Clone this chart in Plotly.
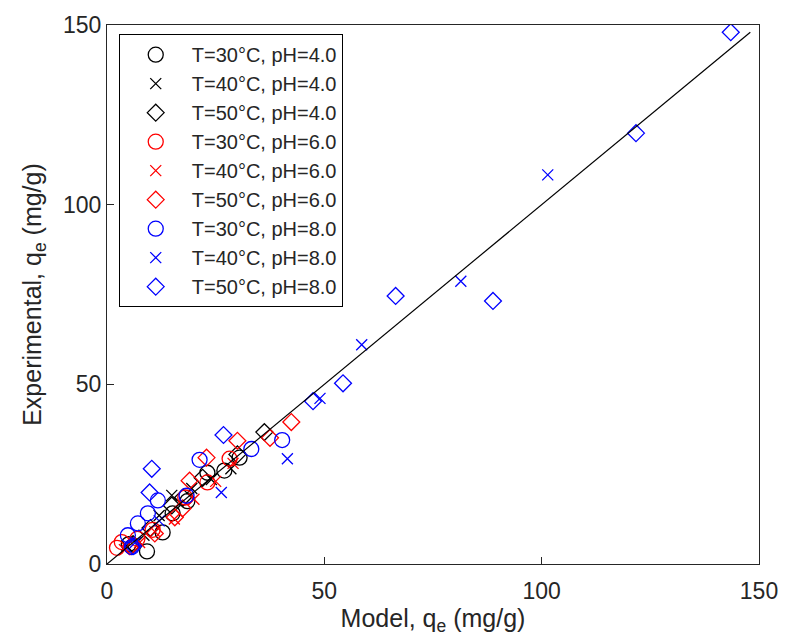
import plotly.graph_objects as go

# Data: (model qe, experimental qe) per series
labels = ["T=30°C, pH=4.0", "T=40°C, pH=4.0", "T=50°C, pH=4.0",
          "T=30°C, pH=6.0", "T=40°C, pH=6.0", "T=50°C, pH=6.0",
          "T=30°C, pH=8.0", "T=40°C, pH=8.0", "T=50°C, pH=8.0"]

x_30_4 = [5.0, 9.2, 12.8, 15.1, 18.5, 23.1, 27.0, 30.5]
y_30_4 = [5.5, 3.5, 8.8, 14.1, 17.5, 25.4, 26.0, 29.6]
x_40_4 = [4.5, 8.5, 12.0, 14.9, 19.5, 24.0, 28.5]
y_40_4 = [5.0, 8.0, 13.5, 19.1, 21.0, 23.5, 26.5]
x_50_4 = [6.0, 10.0, 14.9, 17.5, 22.0, 30.0, 36.2]
y_50_4 = [5.5, 10.0, 16.3, 18.5, 24.0, 30.5, 36.7]

x_30_6 = [2.3, 3.4, 7.0, 10.5, 18.0, 23.1, 28.2]
y_30_6 = [4.5, 6.1, 7.0, 9.5, 18.5, 22.7, 29.3]
x_40_6 = [4.0, 7.5, 11.0, 15.5, 20.0, 25.0, 29.0]
y_40_6 = [4.0, 6.0, 9.0, 12.5, 18.0, 23.0, 28.0]
x_50_6 = [5.5, 11.0, 15.6, 17.4, 19.0, 22.9, 30.0, 37.5, 42.4]
y_50_6 = [5.0, 8.5, 13.0, 15.5, 23.2, 29.6, 34.3, 35.1, 39.5]

x_30_8 = [5.7, 4.8, 7.1, 9.4, 11.7, 18.3, 21.3, 33.2, 40.3]
y_30_8 = [4.7, 8.0, 11.3, 14.1, 17.7, 19.0, 29.0, 32.0, 34.5]
x_40_8 = [6.5, 12.0, 26.3, 41.5, 49.0, 58.6, 81.4, 101.4]
y_40_8 = [6.0, 12.0, 19.9, 29.3, 46.1, 61.0, 78.7, 108.3]
x_50_8 = [6.0, 9.8, 10.3, 26.8, 47.4, 54.3, 66.4, 88.8, 121.7, 143.5]
y_50_8 = [5.0, 19.9, 26.5, 35.9, 45.3, 50.3, 74.6, 73.2, 119.9, 148.0]

line_x = [0, 148]
line_y = [0, 148]

xs = [x_30_4, x_40_4, x_50_4, x_30_6, x_40_6, x_50_6, x_30_8, x_40_8, x_50_8]
ys = [y_30_4, y_40_4, y_50_4, y_30_6, y_40_6, y_50_6, y_30_8, y_40_8, y_50_8]
colors = ["black"] * 3 + ["red"] * 3 + ["blue"] * 3
symbols = ["circle-open", "x-thin-open", "diamond-open"] * 3
sizes = [15, 11, 13] * 3

fig = go.Figure()
for xv, yv, lab, c, s, sz in zip(xs, ys, labels, colors, symbols, sizes):
    fig.add_trace(go.Scatter(
        x=xv, y=yv, mode="markers", name=lab,
        marker=dict(symbol=s, size=sz, color=c, line=dict(color=c, width=1.3)),
    ))

fig.add_trace(go.Scatter(x=line_x, y=line_y, mode="lines",
                         line=dict(color="black", width=1.2), showlegend=False))

font_family = "Liberation Sans, Arial, sans-serif"
axis_common = dict(
    range=[0, 150], tickvals=[0, 50, 100, 150],
    showline=True, linecolor="#262626", linewidth=1.3, mirror=True,
    ticks="inside", ticklen=7, tickcolor="#262626",
    showgrid=False, zeroline=False,
    tickfont=dict(size=23, color="#262626", family=font_family),
)

fig.update_layout(
    width=790, height=640,
    margin=dict(l=107, r=24, t=22, b=76),
    paper_bgcolor="white", plot_bgcolor="white",
    font=dict(family=font_family, color="#262626", size=20),
    xaxis=dict(**axis_common, ticklabelstandoff=6,
               title=dict(text="Model, q<sub>e</sub> (mg/g)", font=dict(size=25), standoff=6)),
    yaxis=dict(**axis_common,
               title=dict(text="Experimental, q<sub>e</sub> (mg/g)", font=dict(size=25), standoff=14)),
    legend=dict(x=0.018, y=0.983, xanchor="left", yanchor="top",
                bordercolor="black", borderwidth=1, bgcolor="white",
                font=dict(size=20, color="#262626", family=font_family),
                itemwidth=62),
)

fig.write_html("out.html")
